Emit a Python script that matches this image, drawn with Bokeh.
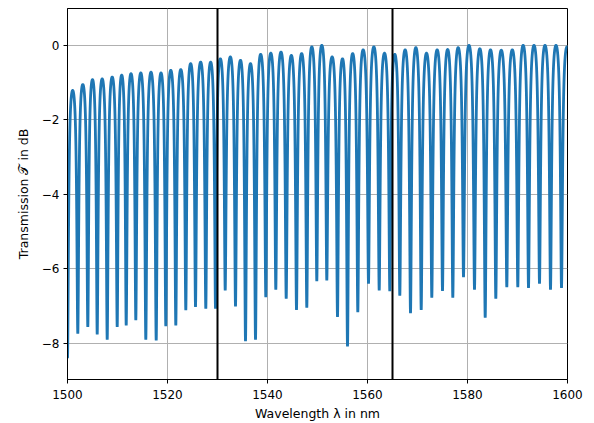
import numpy as np
from bokeh.plotting import figure
from bokeh.models import Range1d, Span, FixedTicker, CustomJSTickFormatter
from bokeh.embed import file_html
from bokeh.resources import INLINE

# Resonance dip wavelengths (nm)
dip_wl = [1500.0, 1502.06, 1504.06, 1505.94, 1507.94, 1509.94, 1511.74, 1513.66,
          1515.66, 1517.74, 1519.66, 1521.66, 1523.66, 1525.6, 1527.66, 1529.6,
          1531.54, 1533.6, 1535.6, 1537.6, 1539.66, 1541.66, 1543.74, 1545.8,
          1547.86, 1549.86, 1551.86, 1554.0, 1556.0, 1558.06, 1560.2, 1562.34,
          1564.46, 1566.46, 1568.6, 1570.74, 1572.86, 1575.0, 1577.06, 1579.2,
          1581.4, 1583.54, 1585.66, 1587.86, 1590.06, 1592.2, 1594.4, 1596.6,
          1598.8]
# Dip depth (dB)
dip_db = [-8.4, -7.74, -7.56, -7.76, -7.9, -7.56, -7.52, -7.38, -7.9, -7.92,
          -7.54, -7.52, -7.11, -7.02, -7.07, -7.07, -6.58,
          -7.01, -7.94, -7.90, -6.76, -6.56, -6.80, -7.10, -7.04, -6.33, -6.31,
          -7.29, -8.08, -7.16, -6.40, -6.58, -6.60, -6.72,
          -7.19, -7.10, -6.77, -6.59, -6.77, -6.22, -6.56, -7.31, -6.80, -6.49,
          -6.49, -6.51, -6.40, -6.56, -6.51]
# Level of the transmission maximum following each dip (dB)
peak_db = [-1.21, -1.05, -0.92, -0.90, -0.85, -0.80, -0.76, -0.74, -0.72, -0.74,
           -0.67, -0.65, -0.49, -0.45, -0.45, -0.36,
           -0.31, -0.40, -0.49, -0.24, -0.21, -0.18, -0.27, -0.22, -0.04, 0.0,
           -0.31, -0.36, -0.22, -0.12, -0.04, -0.21, -0.24,
           -0.12, -0.06, -0.21, -0.12, -0.11, -0.06, 0.0, -0.09, -0.12, -0.13,
           -0.12, 0.0, 0.0, 0.0, 0.0, -0.04]
band_edges = [1530, 1565]
x_ticks = [1500, 1520, 1540, 1560, 1580, 1600]
y_ticks = [0, -2, -4, -6, -8]

# Ring-resonator line shape between consecutive dips
A, F = 0.82, 3.0
def shape(t):
    s = 10 * np.log10(1 - A / (1 + F * np.sin(np.pi * t) ** 2))
    s0 = 10 * np.log10(1 - A)
    s5 = 10 * np.log10(1 - A / (1 + F))
    return (s - s5) / (s0 - s5)

xs, ys = [], []
n = len(dip_wl)
for i in range(n):
    x0 = dip_wl[i]
    if i + 1 < n:
        x1 = dip_wl[i + 1]
        d1 = dip_db[i + 1]
    else:
        x1 = x0 + (dip_wl[i] - dip_wl[i - 1])
        d1 = dip_db[i]
    npts = 120
    t = np.linspace(0, 1, npts, endpoint=False)
    xx = x0 + t * (x1 - x0)
    g = shape(t)
    d = np.where(t < 0.5, dip_db[i], d1)
    yy = peak_db[i] + (d - peak_db[i]) * g
    m = xx <= 1600
    xs.append(xx[m]); ys.append(yy[m])
x = np.concatenate(xs)
y = np.concatenate(ys)

p = figure(width=586, height=415, output_backend="svg", toolbar_location=None,
           x_range=Range1d(1500, 1600), y_range=Range1d(-8.97, 0.99),
           min_border_left=67, min_border_right=19, min_border_top=8,
           min_border_bottom=36)
p.frame_width = 500
p.frame_height = 371

p.line(x, y, line_color="#1f77b4", line_width=2.8)

for b in band_edges:
    p.add_layout(Span(location=b, dimension="height", line_color="black",
                      line_width=2))

p.outline_line_color = "black"
p.outline_line_width = 1
p.background_fill_color = "white"
p.border_fill_color = "white"

minus_fmt = CustomJSTickFormatter(code="return String(tick).replace('-', '\u2212');")
p.xaxis.ticker = FixedTicker(ticks=x_ticks)
p.yaxis.ticker = FixedTicker(ticks=y_ticks)
p.yaxis.formatter = minus_fmt
for ax in (p.xaxis, p.yaxis):
    ax.axis_line_color = "black"
    ax.major_tick_line_color = "black"
    ax.major_tick_out = 4
    ax.major_tick_in = 0
    ax.minor_tick_line_color = None
    ax.major_label_text_font = "DejaVu Sans"
    ax.major_label_text_font_size = "12px"
    ax.major_label_text_color = "black"
    ax.axis_label_text_font = "DejaVu Sans"
    ax.axis_label_text_font_size = "12.5px"
    ax.axis_label_text_font_style = "normal"
    ax.axis_label_text_color = "black"
p.xaxis.axis_label = "Wavelength \u03bb in nm"
p.yaxis.axis_label = "Transmission \U0001D4AF in dB"
p.xaxis.major_label_standoff = 6
p.xaxis.axis_label_standoff = 4
p.yaxis.major_label_standoff = 4
p.yaxis.axis_label_standoff = 8

p.xgrid.ticker = FixedTicker(ticks=x_ticks)
p.ygrid.ticker = FixedTicker(ticks=y_ticks)
p.grid.grid_line_color = "#b0b0b0"
p.grid.grid_line_width = 1

open("out.html", "w").write(file_html(p, INLINE))
